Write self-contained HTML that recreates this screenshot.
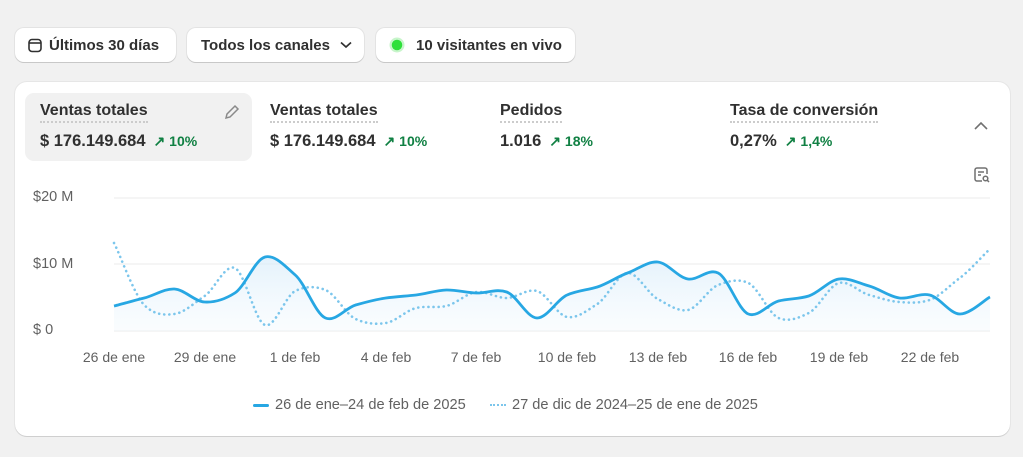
<!DOCTYPE html>
<html><head><meta charset="utf-8"><style>
*{box-sizing:border-box;margin:0;padding:0}
body{width:1023px;height:457px;background:#f1f1f1;font-family:"Liberation Sans",sans-serif;position:relative;overflow:hidden;color:#303030}
.btn{position:absolute;top:28px;height:34px;background:#fff;border-radius:9px;box-shadow:0 1px 0 #c8c8c8,0 0 0 1px #e3e3e3;font-size:15px;font-weight:600;display:flex;align-items:center;color:#303030}
.card{position:absolute;left:15px;top:82px;width:995px;height:354px;background:#fff;border-radius:12px;box-shadow:0 1px 0 #cfcfcf,0 0 0 1px #e6e6e6}
.sel{position:absolute;left:25px;top:93px;width:227px;height:68px;background:#f1f1f1;border-radius:9px}
.m{position:absolute;font-size:16px}
.m .t{font-weight:600;border-bottom:2px dotted #ccc;padding-bottom:1px;display:inline-block}
.m .v{margin-top:9px;font-weight:600;font-size:16.5px}
.m .v span{color:#108043;font-size:14px;margin-left:8px}
.yl{position:absolute;left:33px;font-size:14.5px;color:#616161}
.xl{position:absolute;top:349px;font-size:14px;color:#616161;transform:translateX(-50%);white-space:nowrap}
.leg{position:absolute;top:397px;font-size:14.6px;color:#616161}
</style></head><body>
<div class="btn" style="left:15px;width:161px;padding-left:12px">
<svg width="16" height="16" viewBox="0 0 16 16" style="margin-right:6px"><rect x="2" y="2.5" width="12" height="12" rx="3" fill="none" stroke="#303030" stroke-width="1.6"/><line x1="2" y1="6" x2="14" y2="6" stroke="#303030" stroke-width="1.6"/></svg>Últimos 30 días</div>
<div class="btn" style="left:187px;width:177px;padding-left:14px">Todos los canales<svg width="12" height="8" style="margin-left:10px"><path d="M1 1.5L6 6L11 1.5" fill="none" stroke="#303030" stroke-width="1.7"/></svg></div>
<div class="btn" style="left:376px;width:199px;padding-left:14px"><span style="width:14px;height:14px;border-radius:50%;background:#2ee03a;box-shadow:0 0 0 3px #c8f5cb;margin-right:12px;transform:scale(.75)"></span>10 visitantes en vivo</div>
<div class="card"></div>
<div class="sel"></div>
<svg style="position:absolute;left:223px;top:103px" width="18" height="18" viewBox="0 0 18 18"><path d="M3 15l1-4 8-8 3 3-8 8z" fill="none" stroke="#8a8a8a" stroke-width="1.5"/></svg>
<div class="m" style="left:40px;top:102px"><div class="t">Ventas totales</div><div class="v">$ 176.149.684<span>↗ 10%</span></div></div>
<div class="m" style="left:270px;top:102px"><div class="t">Ventas totales</div><div class="v">$ 176.149.684<span>↗ 10%</span></div></div>
<div class="m" style="left:500px;top:102px"><div class="t">Pedidos</div><div class="v">1.016<span>↗ 18%</span></div></div>
<div class="m" style="left:730px;top:102px"><div class="t">Tasa de conversión</div><div class="v">0,27%<span>↗ 1,4%</span></div></div>
<svg style="position:absolute;left:974px;top:121px" width="14" height="10"><path d="M1 8L7 2L13 8" fill="none" stroke="#707070" stroke-width="1.6"/></svg>
<svg style="position:absolute;left:973px;top:166px" width="18" height="18" viewBox="0 0 18 18"><path d="M9 15H4a2 2 0 0 1-2-2V4a2 2 0 0 1 2-2h8a2 2 0 0 1 2 2v4" fill="none" stroke="#707070" stroke-width="1.5"/><line x1="5" y1="6" x2="11" y2="6" stroke="#707070" stroke-width="1.5"/><line x1="5" y1="9" x2="8" y2="9" stroke="#707070" stroke-width="1.5"/><circle cx="12.5" cy="12.5" r="2.3" fill="none" stroke="#707070" stroke-width="1.5"/><line x1="14.2" y1="14.2" x2="16" y2="16" stroke="#707070" stroke-width="1.5"/></svg>
<div class="yl" style="top:189px">$20 M</div>
<div class="yl" style="top:256px">$10 M</div>
<div class="yl" style="top:322px">$ 0</div>
<svg id="ch" style="position:absolute;left:0;top:0" width="1023" height="457">
<defs><linearGradient id="g" x1="0" y1="0" x2="0" y2="1"><stop offset="0" stop-color="#d8ecfa" stop-opacity=".7"/><stop offset="1" stop-color="#eef7fd" stop-opacity=".3"/></linearGradient></defs>
<line x1="114" y1="198" x2="990" y2="198" stroke="#ebebeb" stroke-width="1"/>
<line x1="114" y1="264" x2="990" y2="264" stroke="#ebebeb" stroke-width="1"/>
<line x1="114" y1="331" x2="990" y2="331" stroke="#ebebeb" stroke-width="1"/>
<path id="area" fill="url(#g)"/>
<path id="dot" fill="none" stroke="#7cc6ec" stroke-width="2.6" stroke-dasharray="0.1 5" stroke-linecap="round"/>
<path id="sol" fill="none" stroke="#27a7e3" stroke-width="2.8"/>
</svg>
<div class="xl" style="left:114px">26 de ene</div>
<div class="xl" style="left:205px">29 de ene</div>
<div class="xl" style="left:295px">1 de feb</div>
<div class="xl" style="left:386px">4 de feb</div>
<div class="xl" style="left:476px">7 de feb</div>
<div class="xl" style="left:567px">10 de feb</div>
<div class="xl" style="left:658px">13 de feb</div>
<div class="xl" style="left:748px">16 de feb</div>
<div class="xl" style="left:839px">19 de feb</div>
<div class="xl" style="left:930px">22 de feb</div>
<div class="leg" style="left:253px"><span style="display:inline-block;width:16px;height:3px;background:#27a7e3;vertical-align:middle;margin-right:6px;border-radius:2px"></span>26 de ene–24 de feb de 2025</div>
<div class="leg" style="left:490px"><span style="display:inline-block;width:16px;border-top:2px dotted #7cc6ec;vertical-align:middle;margin-right:6px"></span>27 de dic de 2024–25 de ene de 2025</div>
<script>
var s=[306,298,289,302,293,257,275,318,305,298,295,290,293,292,318,295,287,273,262,279,273,314,301,296,279,286,298,295,314,297];
var d=[243,305,314,296,268,325,291,290,319,323,308,306,292,298,291,317,304,273,299,310,285,283,318,313,283,295,302,300,278,249];
function P(a){var p=a.map(function(y,i){return[114+i*876/29,y]});var r="M"+p[0][0]+" "+p[0][1];
for(var i=0;i<p.length-1;i++){var p0=p[i-1]||p[i],p1=p[i],p2=p[i+1],p3=p[i+2]||p2;
r+="C"+(p1[0]+(p2[0]-p0[0])/6)+" "+(p1[1]+(p2[1]-p0[1])/7)+" "+(p2[0]-(p3[0]-p1[0])/6)+" "+(p2[1]-(p3[1]-p1[1])/7)+" "+p2[0]+" "+p2[1];}return r;}
document.getElementById("sol").setAttribute("d",P(s));
document.getElementById("dot").setAttribute("d",P(d));
document.getElementById("area").setAttribute("d",P(s)+"L990 331L114 331Z");
</script>
</body></html>
